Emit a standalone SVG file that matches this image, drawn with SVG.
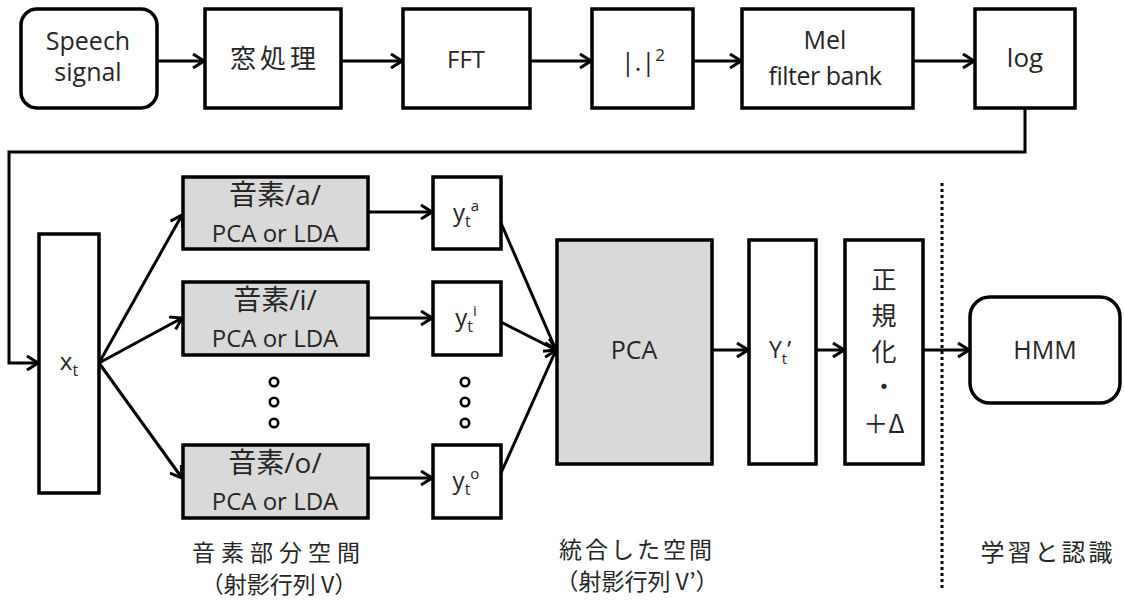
<svg xmlns="http://www.w3.org/2000/svg" width="1124" height="606" viewBox="0 0 1124 606">
<defs>
<marker id="arr" viewBox="0 0 13 16" refX="12" refY="8" markerWidth="13" markerHeight="16" markerUnits="userSpaceOnUse" orient="auto">
<path d="M1,1 L12,8 L1,15" fill="none" stroke="#000" stroke-width="3" stroke-linejoin="miter"/>
</marker>
<style>
.box{fill:#fff;stroke:#000;stroke-width:3.5}
.gray{fill:#d9d9d9;stroke:#000;stroke-width:3.5}
.ln{fill:none;stroke:#000;stroke-width:3}
.t{font-family:"Open Sans","Noto Sans CJK JP",sans-serif;fill:#262626;text-anchor:middle}
.j{font-family:"Noto Sans CJK JP",sans-serif;fill:#262626;text-anchor:middle}
</style>
</defs>
<rect width="1124" height="606" fill="#fff"/>

<g id="connectors">
<line class="ln" x1="157" y1="61" x2="204" y2="61" marker-end="url(#arr)"/>
<line class="ln" x1="341" y1="61" x2="402" y2="61" marker-end="url(#arr)"/>
<line class="ln" x1="530" y1="61" x2="591" y2="61" marker-end="url(#arr)"/>
<line class="ln" x1="693" y1="61" x2="741" y2="61" marker-end="url(#arr)"/>
<line class="ln" x1="913" y1="61" x2="974" y2="61" marker-end="url(#arr)"/>
<polyline class="ln" points="1025,108 1025,152 9,152 9,363 38,363" marker-end="url(#arr)"/>
<line class="ln" x1="99" y1="363" x2="182" y2="215" marker-end="url(#arr)"/>
<line class="ln" x1="99" y1="363" x2="182" y2="318" marker-end="url(#arr)"/>
<line class="ln" x1="99" y1="363" x2="182" y2="478" marker-end="url(#arr)"/>
<line class="ln" x1="368" y1="212" x2="432" y2="212" marker-end="url(#arr)"/>
<line class="ln" x1="368" y1="318" x2="432" y2="318" marker-end="url(#arr)"/>
<line class="ln" x1="368" y1="478" x2="432" y2="478" marker-end="url(#arr)"/>
<line class="ln" x1="501" y1="223" x2="556" y2="350" marker-end="url(#arr)"/>
<line class="ln" x1="501" y1="322" x2="556" y2="350" marker-end="url(#arr)"/>
<line class="ln" x1="501" y1="473" x2="556" y2="350" marker-end="url(#arr)"/>
<line class="ln" x1="712" y1="350" x2="748" y2="350" marker-end="url(#arr)"/>
<line class="ln" x1="816" y1="350" x2="844" y2="350" marker-end="url(#arr)"/>
<line class="ln" x1="923" y1="350" x2="969" y2="350" marker-end="url(#arr)"/>
<line x1="942" y1="183" x2="942" y2="590" stroke="#000" stroke-width="3" stroke-dasharray="3 3"/>
</g>

<g id="speech">
<rect class="box" x="21" y="9" width="136" height="99" rx="16"/>
<text class="t" x="88" y="50" font-size="25">Speech</text>
<text class="t" x="88" y="81" font-size="25">signal</text>
</g>
<g id="window">
<rect class="box" x="205" y="9" width="136" height="99"/>
<text class="j" x="275" y="68" font-size="26" letter-spacing="4">窓処理</text>
</g>
<g id="fft">
<rect class="box" x="403" y="9" width="127" height="99"/>
<text class="t" x="466" y="68" font-size="24">FFT</text>
</g>
<g id="abs2">
<rect class="box" x="592" y="9" width="101" height="99"/>
<text class="t" x="643" y="71" font-size="25">|.|<tspan font-size="17" dy="-10">2</tspan></text>
</g>
<g id="mel">
<rect class="box" x="742" y="9" width="171" height="99"/>
<text class="t" x="825" y="49" font-size="25">Mel</text>
<text class="t" x="825" y="85" font-size="25" letter-spacing="-0.5">filter bank</text>
</g>
<g id="log">
<rect class="box" x="975" y="9" width="100" height="99"/>
<text class="t" x="1025" y="67" font-size="26">log</text>
</g>

<g id="xt">
<rect class="box" x="39" y="234" width="60" height="259"/>
<text class="t" x="69" y="370" font-size="24">x<tspan font-size="16" dy="6">t</tspan></text>
</g>

<g id="phone-a">
<rect class="gray" x="183" y="177" width="185" height="72"/>
<text class="t" x="275" y="205" font-size="28">音素/a/</text>
<text class="t" x="275" y="242" font-size="24">PCA or LDA</text>
</g>
<g id="phone-i">
<rect class="gray" x="183" y="282" width="185" height="73"/>
<text class="t" x="275" y="310" font-size="28">音素/i/</text>
<text class="t" x="275" y="347" font-size="24">PCA or LDA</text>
</g>
<g id="phone-o">
<rect class="gray" x="183" y="445" width="185" height="73"/>
<text class="t" x="275" y="473" font-size="28">音素/o/</text>
<text class="t" x="275" y="510" font-size="24">PCA or LDA</text>
</g>

<g id="ya">
<rect class="box" x="433" y="177" width="68" height="72"/>
<text class="t" x="466" y="221" font-size="24">y<tspan font-size="16" dy="6">t</tspan><tspan font-size="15" dy="-16">a</tspan></text>
</g>
<g id="yi">
<rect class="box" x="433" y="282" width="68" height="73"/>
<text class="t" x="466" y="326" font-size="24">y<tspan font-size="16" dy="6">t</tspan><tspan font-size="15" dy="-16">i</tspan></text>
</g>
<g id="yo">
<rect class="box" x="433" y="445" width="68" height="73"/>
<text class="t" x="466" y="489" font-size="24">y<tspan font-size="16" dy="6">t</tspan><tspan font-size="15" dy="-16">o</tspan></text>
</g>

<g id="dots">
<circle cx="274" cy="382" r="4.2" fill="#fff" stroke="#000" stroke-width="2.6"/>
<circle cx="274" cy="402" r="4.2" fill="#fff" stroke="#000" stroke-width="2.6"/>
<circle cx="274" cy="423" r="4.2" fill="#fff" stroke="#000" stroke-width="2.6"/>
<circle cx="465" cy="382" r="4.2" fill="#fff" stroke="#000" stroke-width="2.6"/>
<circle cx="465" cy="402" r="4.2" fill="#fff" stroke="#000" stroke-width="2.6"/>
<circle cx="465" cy="423" r="4.2" fill="#fff" stroke="#000" stroke-width="2.6"/>
</g>

<g id="pca">
<rect class="gray" x="557" y="240" width="155" height="224"/>
<text class="t" x="634" y="359" font-size="25">PCA</text>
</g>
<g id="Yt">
<rect class="box" x="749" y="240" width="67" height="224"/>
<text class="t" x="780" y="358" font-size="23">Y<tspan font-size="15" dy="6">t</tspan><tspan dy="-6">’</tspan></text>
</g>
<g id="norm">
<rect class="box" x="845" y="240" width="78" height="224"/>
<text class="j" x="884" y="289" font-size="25">正</text>
<text class="j" x="884" y="325" font-size="25">規</text>
<text class="j" x="884" y="361" font-size="25">化</text>
<text class="j" x="884" y="396" font-size="25">・</text>
<text class="j" x="884" y="433" font-size="25">＋Δ</text>
</g>
<g id="hmm">
<rect class="box" x="970" y="297" width="150" height="106" rx="20"/>
<text class="t" x="1045" y="359" font-size="25">HMM</text>
</g>

<g id="labels">
<text class="j" x="279" y="561" font-size="23" letter-spacing="6">音素部分空間</text>
<text class="j" x="279" y="593" font-size="23">（射影行列 V）</text>
<text class="j" x="637" y="558" font-size="23" letter-spacing="3">統合した空間</text>
<text class="j" x="637" y="590" font-size="23">（射影行列 V’）</text>
<text class="j" x="1048" y="561" font-size="24" letter-spacing="3">学習と認識</text>
</g>
</svg>
